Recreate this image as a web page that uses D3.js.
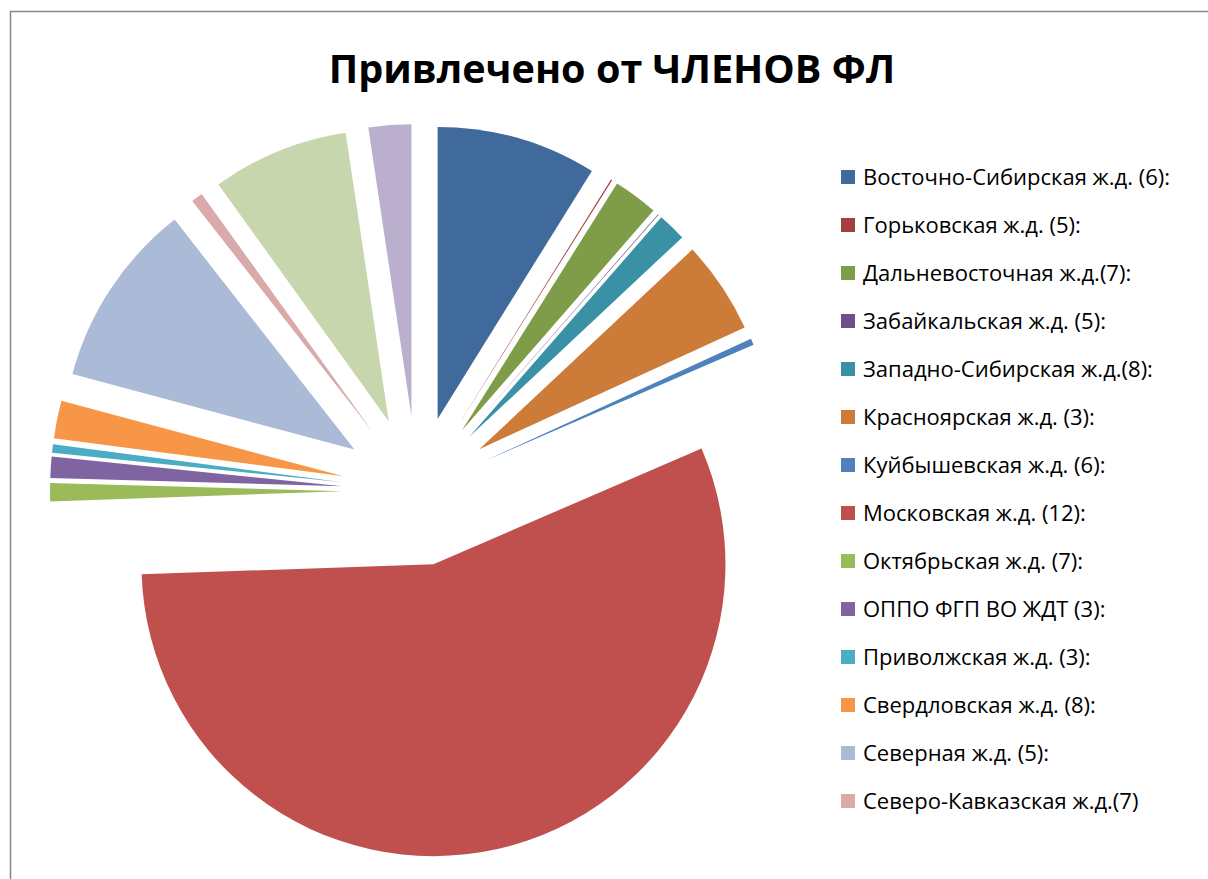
<!DOCTYPE html>
<html>
<head>
<meta charset="utf-8">
<script src="https://cdn.jsdelivr.net/npm/d3@7"></script>
<style>
  body { margin: 0; background: #fff; }
  svg { display: block; }
</style>
</head>
<body>
<div id="chart"></div>
<script>
// share of each railway, %
const railways = [
  "Восточно-Сибирская ж.д. (6):",
  "Горьковская ж.д. (5):",
  "Дальневосточная ж.д.(7):",
  "Забайкальская ж.д. (5):",
  "Западно-Сибирская ж.д.(8):",
  "Красноярская ж.д. (3):",
  "Куйбышевская ж.д. (6):",
  "Московская ж.д. (12):",
  "Октябрьская ж.д. (7):",
  "ОППО ФГП ВО ЖДТ (3):",
  "Приволжская ж.д. (3):",
  "Свердловская ж.д. (8):",
  "Северная ж.д. (5):",
  "Северо-Кавказская ж.д.(7)",
  "Юго-Восточная ж.д.",
  "Южно-Уральская ж.д."
];
const shares = [8.86, 0.07, 2.47, 0.04, 1.58, 5.14, 0.36, 55.94, 1.0, 1.17, 0.47, 2.08, 10.28, 0.64, 7.56, 2.36];
const colors = [
  "#3f6a9b", "#a2403e", "#7f9c49", "#69518a", "#3a90a5", "#cd7b38",
  "#4f81bd", "#c0504d", "#9bbb59", "#8064a2", "#4bacc6", "#f79646",
  "#aabad7", "#d9aaa9", "#c7d6ad", "#bab0cd"
];
// legend in the original is cut off after 14 entries
const legendCount = 14;

const data = railways.map((name, i) => ({ name: name, value: shares[i] }));

const width = 1208, height = 879;
const cx = 417, cy = 491, radius = 292, explode = 75;

const svg = d3.select('#chart')
  .append('svg')
  .attr('width', width)
  .attr('height', height);

// chart frame (right and bottom edges are outside the window)
svg.append('rect')
  .attr('x', 10.5)
  .attr('y', 11.5)
  .attr('width', 1400)
  .attr('height', 1000)
  .attr('fill', '#fff')
  .attr('stroke', '#868686')
  .attr('stroke-width', 1.5);

svg.append('text')
  .attr('x', 612)
  .attr('y', 83)
  .attr('text-anchor', 'middle')
  .style('font-family', '"Open Sans", sans-serif')
  .style('font-weight', 'bold')
  .style('font-size', '39.6px')
  .text('Привлечено от ЧЛЕНОВ ФЛ');

const pie = d3.pie()
  .sort(null)
  .value(d => d.value);

const arc = d3.arc()
  .innerRadius(0)
  .outerRadius(radius);

const g = svg.append('g')
  .attr('transform', `translate(${cx}, ${cy})`);

g.selectAll('path')
  .data(pie(data))
  .join('path')
  .attr('fill', (d, i) => colors[i])
  .attr('transform', d => {
    const mid = (d.startAngle + d.endAngle) / 2;
    return `translate(${explode * Math.sin(mid)}, ${-explode * Math.cos(mid)})`;
  })
  .attr('d', arc);

const legend = svg.append('g')
  .attr('transform', 'translate(841, 170)');

const item = legend.selectAll('g')
  .data(data.slice(0, legendCount))
  .join('g')
  .attr('transform', (d, i) => `translate(0, ${i * 48})`);

item.append('rect')
  .attr('width', 14)
  .attr('height', 14)
  .attr('fill', (d, i) => colors[i]);

item.append('text')
  .attr('x', 22)
  .attr('y', 15)
  .style('font-family', '"Open Sans", sans-serif')
  .style('font-size', '22px')
  .attr('fill', '#000')
  .text(d => d.name);
</script>
</body>
</html>
